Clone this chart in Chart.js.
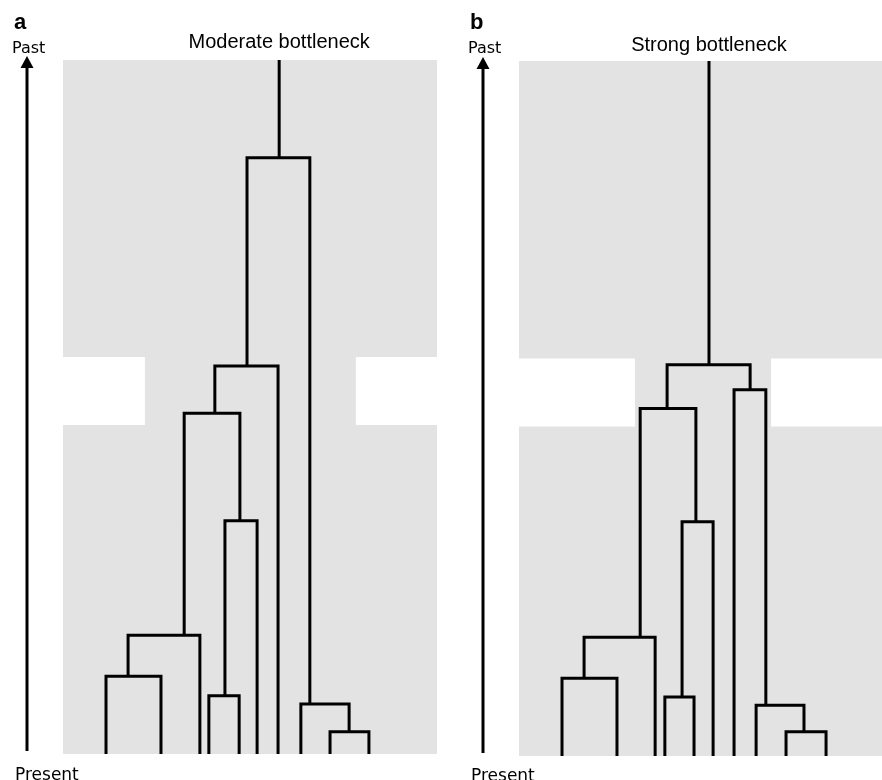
<!DOCTYPE html>
<html>
<head>
<meta charset="utf-8">
<title>Bottleneck genealogies</title>
<script src="https://cdn.jsdelivr.net/npm/chart.js@4.4.1/dist/chart.umd.min.js"></script>
<style>
    html, body { margin: 0; padding: 0; background: #fff; overflow: hidden; }
    body { width: 882px; height: 780px; position: relative; }
    .panel { position: absolute; top: 0; width: 456px; height: 780px; }
    .panel canvas { position: absolute; left: 0; top: 0; }
    .label { position: absolute; white-space: nowrap; line-height: 1; color: #000; }
    .letter { font: bold 22px "Liberation Sans", Arial, sans-serif; left: 14px; top: 9px; }
    .past { font: 16px "DejaVu Sans", sans-serif; left: 12px; top: 38px; }
    .present { font: 17px "DejaVu Sans", sans-serif; left: 15px; top: 764px; }
    .title { font: 20px "Liberation Sans", Arial, sans-serif; transform: translateX(-50%); }
</style>
</head>
<body>
<div class="panel" style="left:0">
    <canvas id="chart-a" width="456" height="780"></canvas>
    <div class="label letter">a</div>
    <div class="label past">Past</div>
    <div class="label present">Present</div>
    <div class="label title" id="title-a" style="top:30px">Moderate bottleneck</div>
</div>
<div class="panel" style="left:456px">
    <canvas id="chart-b" width="456" height="780"></canvas>
    <div class="label letter">b</div>
    <div class="label past">Past</div>
    <div class="label present" style="top:765px">Present</div>
    <div class="label title" id="title-b" style="top:33px">Strong bottleneck</div>
</div>
<script>
// Time goes from 0 (present) up to 10 (past), x is position across the population (0-100)
const timeMax = 10;
const bottleneckTimes = [4.74, 5.72];

// Panel a - moderate bottleneck
const bottleneckA = [21.9, 78.3];
const tipsA = [11.5, 26.2, 36.6, 39.0, 47.1, 51.9, 57.5, 63.6, 71.4, 81.8];
const nodeTimesA = [1.12, 1.71, 0.84, 3.36, 4.91, 5.59, 0.32, 0.72, 8.59];
const nodeXA = [17.4, 32.4, 43.3, 47.3, 40.6, 49.2, 76.5, 66.0, 57.8];
const nodeKidsA = [['t0', 't1'], ['n0', 't2'], ['t3', 't4'], ['n2', 't5'], ['n1', 'n3'],
                   ['n4', 't6'], ['t8', 't9'], ['t7', 'n6'], ['n5', 'n7']];

// Panel b - strong bottleneck
const bottleneckB = [31.0, 67.4];
const tipsB = [11.5, 26.2, 36.4, 39.0, 46.8, 51.9, 57.5, 63.4, 71.4, 82.1];
const nodeTimesB = [1.12, 1.71, 0.85, 3.37, 5.0, 0.35, 0.73, 5.27, 5.63];
const nodeXB = [17.4, 32.4, 43.6, 47.3, 39.6, 76.2, 66.0, 61.8, 50.8];
const nodeKidsB = [['t0', 't1'], ['n0', 't2'], ['t3', 't4'], ['n2', 't5'], ['n1', 'n3'],
                   ['t8', 't9'], ['t7', 'n5'], ['t6', 'n6'], ['n4', 'n7']];

const greyFill = '#e3e3e3';

// Grey population outline with the bottleneck cut into both sides
function populationShape(edges) {
    const [t0, t1] = bottleneckTimes;
    const [l, r] = edges;
    return [
        {x: 0, y: 0}, {x: 100, y: 0}, {x: 100, y: t0}, {x: r, y: t0},
        {x: r, y: t1}, {x: 100, y: t1}, {x: 100, y: timeMax}, {x: 0, y: timeMax},
        {x: 0, y: t1}, {x: l, y: t1}, {x: l, y: t0}, {x: 0, y: t0}
    ];
}

function branch(points) {
    return {
        data: points,
        showLine: true,
        borderColor: '#000',
        borderWidth: 3,
        borderJoinStyle: 'miter',
        borderCapStyle: 'butt',
        pointRadius: 0,
        fill: false,
        order: 1
    };
}

// One bracket per coalescence, plus the stem above the root
function treeDatasets(tips, nodeX, nodeTimes, kids) {
    const pos = id => {
        const i = +id.slice(1);
        return id[0] === 't' ? {x: tips[i], y: 0} : {x: nodeX[i], y: nodeTimes[i]};
    };
    const sets = kids.map((pair, i) => {
        const a = pos(pair[0]);
        const b = pos(pair[1]);
        const t = nodeTimes[i];
        return branch([a, {x: a.x, y: t}, {x: b.x, y: t}, b]);
    });
    const root = nodeX.length - 1;
    sets.push(branch([{x: nodeX[root], y: nodeTimes[root]}, {x: nodeX[root], y: timeMax}]));
    return sets;
}

// Past/present arrow left of the plot
const arrowPlugin = {
    id: 'timeArrow',
    afterDraw(chart) {
        const {ctx, chartArea} = chart;
        const x = chartArea.left - 36;
        const tip = chartArea.top - 4;
        ctx.save();
        ctx.strokeStyle = '#000';
        ctx.fillStyle = '#000';
        ctx.lineWidth = 3;
        ctx.beginPath();
        ctx.moveTo(x, chartArea.bottom - 3);
        ctx.lineTo(x, tip + 10);
        ctx.stroke();
        ctx.beginPath();
        ctx.moveTo(x, tip);
        ctx.lineTo(x - 6.5, tip + 12);
        ctx.lineTo(x + 6.5, tip + 12);
        ctx.closePath();
        ctx.fill();
        ctx.restore();
    }
};

function makePanel(canvasId, titleId, edges, tips, nodeX, nodeTimes, kids, padding) {
    const datasets = [{
        data: populationShape(edges),
        showLine: true,
        fill: 'shape',
        backgroundColor: greyFill,
        borderWidth: 0,
        pointRadius: 0,
        order: 5
    }].concat(treeDatasets(tips, nodeX, nodeTimes, kids));

    const chart = new Chart(document.getElementById(canvasId), {
        type: 'scatter',
        data: {datasets},
        options: {
            responsive: false,
            animation: false,
            layout: {padding},
            plugins: {legend: {display: false}, tooltip: {enabled: false}},
            scales: {
                x: {type: 'linear', min: 0, max: 100, display: false},
                y: {type: 'linear', min: 0, max: timeMax, display: false}
            }
        },
        plugins: [arrowPlugin]
    });

    // Centre the title over the root stem
    const root = nodeX.length - 1;
    document.getElementById(titleId).style.left = chart.scales.x.getPixelForValue(nodeX[root]) + 'px';
    return chart;
}

makePanel('chart-a', 'title-a', bottleneckA, tipsA, nodeXA, nodeTimesA, nodeKidsA,
    {left: 63, right: 19, top: 60, bottom: 26});
makePanel('chart-b', 'title-b', bottleneckB, tipsB, nodeXB, nodeTimesB, nodeKidsB,
    {left: 63, right: 19, top: 61, bottom: 24});
</script>
</body>
</html>
